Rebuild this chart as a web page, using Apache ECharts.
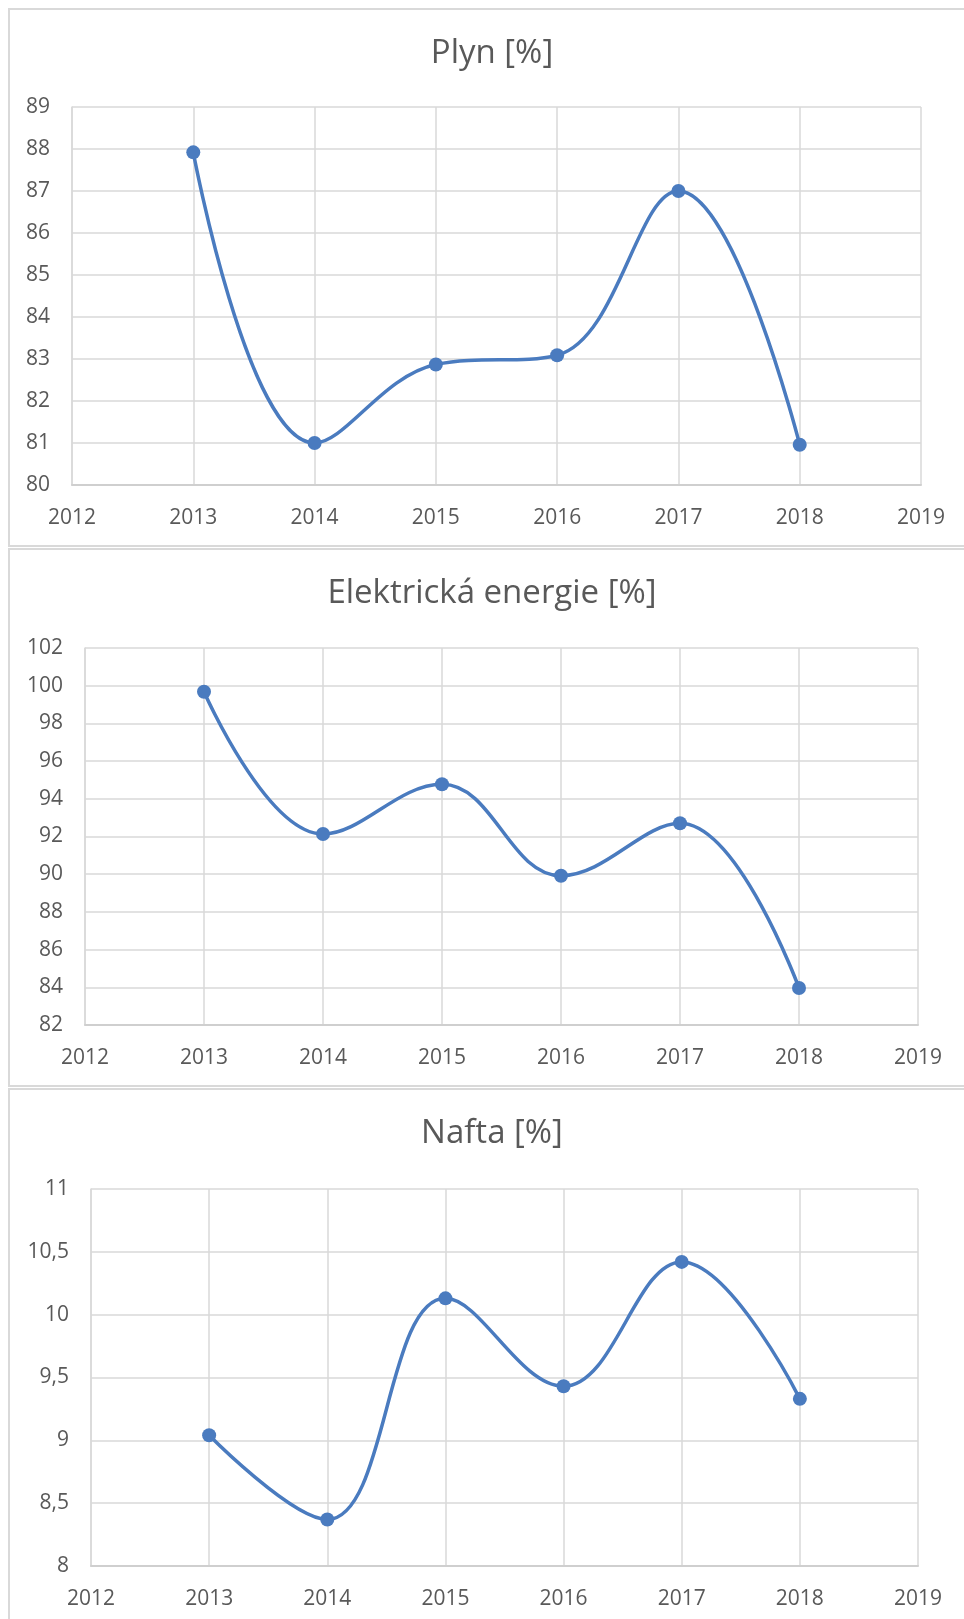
<!DOCTYPE html>
<html>
<head>
<meta charset="utf-8">
<title>Plyn, Elektrická energie, Nafta</title>
<script src="https://cdn.jsdelivr.net/npm/echarts@6/dist/echarts.min.js"></script>
<style>
  html, body { margin: 0; padding: 0; background: #fff; }
  #chart { width: 964px; height: 1619px; }
</style>
</head>
<body>
<div id="chart"></div>
<script>
// data
const years = [2013, 2014, 2015, 2016, 2017, 2018]
const plyn = [87.92, 81.0, 82.87, 83.09, 87.0, 80.96]
const elektrina = [99.68, 92.13, 94.77, 89.92, 92.7, 83.96]
const nafta = [9.04, 8.37, 10.13, 9.43, 10.42, 9.33]

const titles = ['Plyn [%]', 'Elektrická energie [%]', 'Nafta [%]']
const yRanges = [
  { min: 80, max: 89, interval: 1 },
  { min: 82, max: 102, interval: 2 },
  { min: 8, max: 11, interval: 0.5 }
]

const lineColor = '#4a7bbf'
const gridColor = '#d9d9d9'
const textColor = '#595959'
const fontFamily = '"Open Sans", "Noto Sans", sans-serif'

// plot areas (px)
const grids = [
  { left: 72, top: 107, width: 849, height: 378 },
  { left: 85, top: 648, width: 833, height: 377 },
  { left: 91, top: 1189, width: 827, height: 377 }
]
const titleY = [54, 594, 1134]

const chart = echarts.init(document.getElementById('chart'), null, { renderer: 'canvas' })

const toPairs = (vals) => years.map((y, i) => [y, vals[i]])
const seriesData = [plyn, elektrina, nafta]

const option = {
  backgroundColor: '#fff',
  animation: false,
  title: titles.map((t, i) => ({
    text: t,
    left: 492,
    top: titleY[i],
    padding: 0,
    textAlign: 'center',
    textVerticalAlign: 'middle',
    textStyle: { color: textColor, fontSize: 33, fontWeight: 'normal', fontFamily }
  })),
  grid: grids,
  xAxis: grids.map((g, i) => ({
    type: 'value',
    gridIndex: i,
    min: 2012,
    max: 2019,
    interval: 1,
    axisLine: { show: true, lineStyle: { color: '#cfcfcf', width: 2 } },
    axisTick: { show: false },
    axisLabel: {
      color: textColor, fontSize: 21, fontFamily, margin: 23,
      formatter: (v) => String(v)
    },
    splitLine: { show: true, lineStyle: { color: gridColor, width: 1.5 } }
  })),
  yAxis: grids.map((g, i) => ({
    type: 'value',
    gridIndex: i,
    min: yRanges[i].min,
    max: yRanges[i].max,
    interval: yRanges[i].interval,
    axisLine: { show: true, lineStyle: { color: gridColor, width: 1.5 } },
    axisTick: { show: false },
    axisLabel: {
      color: textColor, fontSize: 21, fontFamily, margin: 22,
      formatter: (v) => String(v).replace('.', ',')
    },
    splitLine: { show: true, lineStyle: { color: gridColor, width: 1.5 } }
  })),
  series: seriesData.map((vals, i) => ({
    type: 'line',
    xAxisIndex: i,
    yAxisIndex: i,
    data: toPairs(vals),
    smooth: 0.4,
    symbol: 'circle',
    symbolSize: 14,
    lineStyle: { color: lineColor, width: 3.5 },
    itemStyle: { color: lineColor }
  })),
  // chart area frames
  graphic: [
    { type: 'rect', shape: { x: 9, y: 9, width: 970, height: 537 }, style: { fill: 'none', stroke: gridColor, lineWidth: 2 }, silent: true, z: -1 },
    { type: 'rect', shape: { x: 9, y: 549, width: 970, height: 537 }, style: { fill: 'none', stroke: gridColor, lineWidth: 2 }, silent: true, z: -1 },
    { type: 'rect', shape: { x: 9, y: 1089, width: 970, height: 560 }, style: { fill: 'none', stroke: gridColor, lineWidth: 2 }, silent: true, z: -1 }
  ]
}

chart.setOption(option)
window.addEventListener('resize', () => chart.resize())
</script>
</body>
</html>
